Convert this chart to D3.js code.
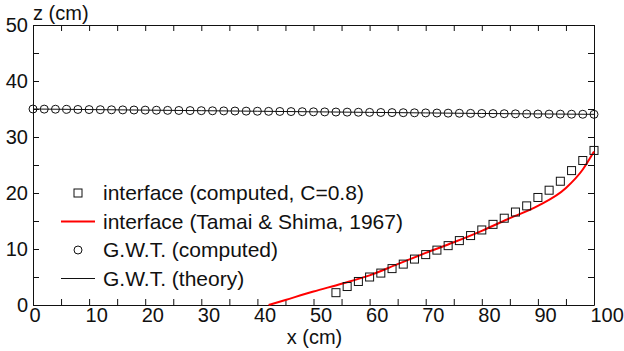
<!DOCTYPE html>
<html>
<head>
<meta charset="utf-8">
<script src="https://cdn.jsdelivr.net/npm/d3@7"></script>
<style>
  body { margin: 0; background: #fff; }
  svg { display: block; font-family: "Liberation Sans", Arial, sans-serif; }
</style>
</head>
<body>
<div id="chart"></div>
<script>
// interface computed (C=0.8), every 2 cm
const ifaceX = [54, 56, 58, 60, 62, 64, 66, 68, 70, 72, 74, 76, 78, 80, 82, 84, 86, 88, 90, 92, 94, 96, 98, 100];
const ifaceZ = [2.2, 3.3, 4.2, 5.0, 5.7, 6.5, 7.3, 8.2, 9.0, 9.8, 10.6, 11.5, 12.4, 13.4, 14.4, 15.5, 16.6, 17.7, 19.2, 20.5, 22.1, 24.0, 25.8, 27.6];

// interface, Tamai & Shima (1967)
const tamaiX = [42, 45, 50, 55, 60, 65, 70, 75, 80, 85, 90, 95, 98, 100];
const tamaiZ = [0, 0.9, 2.4, 3.8, 5.3, 7.3, 9.3, 11.2, 13.25, 15.5, 17.7, 20.9, 24.2, 27.4];

// G.W.T. computed, every 2 cm
const gwtX = d3.range(0, 101, 2);
const gwtZ = [35.00, 34.98, 34.96, 34.94, 34.92, 34.90, 34.88, 34.86, 34.84, 34.82,
              34.80, 34.78, 34.76, 34.74, 34.72, 34.70, 34.68, 34.66, 34.64, 34.62,
              34.60, 34.58, 34.56, 34.54, 34.52, 34.50, 34.48, 34.46, 34.44, 34.42,
              34.40, 34.38, 34.36, 34.34, 34.32, 34.30, 34.28, 34.26, 34.24, 34.22,
              34.20, 34.18, 34.16, 34.14, 34.12, 34.10, 34.09, 34.08, 34.07, 34.06, 34.05];

// G.W.T. theory
const theoryX = [0, 10, 20, 30, 40, 50, 60, 70, 80, 90, 100];
const theoryZ = [35.0, 34.9, 34.8, 34.7, 34.6, 34.5, 34.4, 34.3, 34.2, 34.12, 34.05];

const tickVals = d3.range(0, 101, 5);
const yTickVals = d3.range(0, 51, 5);

const legendItems = [
  {label: "interface (computed, C=0.8)", kind: "square"},
  {label: "interface (Tamai & Shima, 1967)", kind: "red"},
  {label: "G.W.T. (computed)", kind: "circle"},
  {label: "G.W.T. (theory)", kind: "line"}
];

const W = 624, H = 351;
const margin = {top: 25, right: 30, bottom: 46, left: 33};
const w = W - margin.left - margin.right,
      h = H - margin.top - margin.bottom;

const svg = d3.select("#chart").append("svg")
  .attr("width", W).attr("height", H);
const g = svg.append("g")
  .attr("transform", `translate(${margin.left},${margin.top})`);

const x = d3.scaleLinear().domain([0, 100]).range([0, w]);
const y = d3.scaleLinear().domain([0, 50]).range([h, 0]);

const fmt = d => d % 10 === 0 ? d : "";

// axes, ticks point inward
const bottom = g.append("g").attr("transform", `translate(0,${h})`)
  .call(d3.axisBottom(x).tickValues(tickVals).tickFormat(fmt).tickSizeInner(-6).tickSizeOuter(0).tickPadding(3));
const left = g.append("g")
  .call(d3.axisLeft(y).tickValues(yTickVals).tickFormat(fmt).tickSizeInner(-6).tickSizeOuter(0).tickPadding(3));
g.append("g")
  .call(d3.axisTop(x).tickValues(tickVals).tickFormat("").tickSizeInner(-6).tickSizeOuter(0));
g.append("g").attr("transform", `translate(${w},0)`)
  .call(d3.axisRight(y).tickValues(yTickVals).tickFormat("").tickSizeInner(-6).tickSizeOuter(0));

g.selectAll(".domain, .tick line").attr("stroke", "#111").attr("stroke-width", 1);
g.selectAll(".tick text").attr("font-size", 20).attr("fill", "#111")
  .attr("font-family", "Liberation Sans, Arial, sans-serif");
left.selectAll(".tick text").attr("dx", "-2");
// x labels start just left of their tick, as in the original
bottom.selectAll(".tick text").attr("text-anchor", "start").attr("dx", "-4");

// axis titles
svg.append("text").attr("x", 33).attr("y", 20)
  .attr("font-size", 20).attr("fill", "#111").text("z (cm)");
svg.append("text").attr("x", 314.5).attr("y", 344)
  .attr("text-anchor", "middle").attr("font-size", 20).attr("fill", "#111").text("x (cm)");

// G.W.T. theory line
const theory = theoryX.map((v, i) => [v, theoryZ[i]]);
g.append("path").datum(theory)
  .attr("fill", "none").attr("stroke", "#111").attr("stroke-width", 1)
  .attr("d", d3.line().x(d => x(d[0])).y(d => y(d[1])));

// G.W.T. computed circles
g.selectAll(".gwt").data(gwtX.map((v, i) => [v, gwtZ[i]])).join("circle")
  .attr("class", "gwt")
  .attr("cx", d => x(d[0])).attr("cy", d => y(d[1])).attr("r", 4)
  .attr("fill", "none").attr("stroke", "#111").attr("stroke-width", 1);

// Tamai & Shima curve
const tamai = tamaiX.map((v, i) => [v, tamaiZ[i]]);
g.append("path").datum(tamai)
  .attr("fill", "none").attr("stroke", "#ff0000").attr("stroke-width", 2)
  .attr("d", d3.line().curve(d3.curveMonotoneX).x(d => x(d[0])).y(d => y(d[1])));

// interface computed squares
const s = 8;
g.selectAll(".iface").data(ifaceX.map((v, i) => [v, ifaceZ[i]])).join("rect")
  .attr("class", "iface")
  .attr("x", d => x(d[0]) - s / 2).attr("y", d => y(d[1]) - s / 2)
  .attr("width", s).attr("height", s)
  .attr("fill", "none").attr("stroke", "#111").attr("stroke-width", 1);

// legend
const leg = svg.append("g");
const rowY = [193, 221.5, 250, 278.5];
legendItems.forEach((it, i) => {
  const cy = rowY[i];
  if (it.kind === "square") {
    leg.append("rect").attr("x", 78 - s / 2).attr("y", cy - s / 2).attr("width", s).attr("height", s)
      .attr("fill", "none").attr("stroke", "#111");
  } else if (it.kind === "circle") {
    leg.append("circle").attr("cx", 78).attr("cy", cy).attr("r", 4)
      .attr("fill", "none").attr("stroke", "#111");
  } else {
    leg.append("line").attr("x1", 61).attr("x2", 95).attr("y1", cy).attr("y2", cy)
      .attr("stroke", it.kind === "red" ? "#ff0000" : "#111")
      .attr("stroke-width", it.kind === "red" ? 2 : 1);
  }
  leg.append("text").attr("x", 103).attr("y", cy + 7)
    .attr("font-size", 21).attr("fill", "#111").text(it.label);
});
</script>
</body>
</html>
